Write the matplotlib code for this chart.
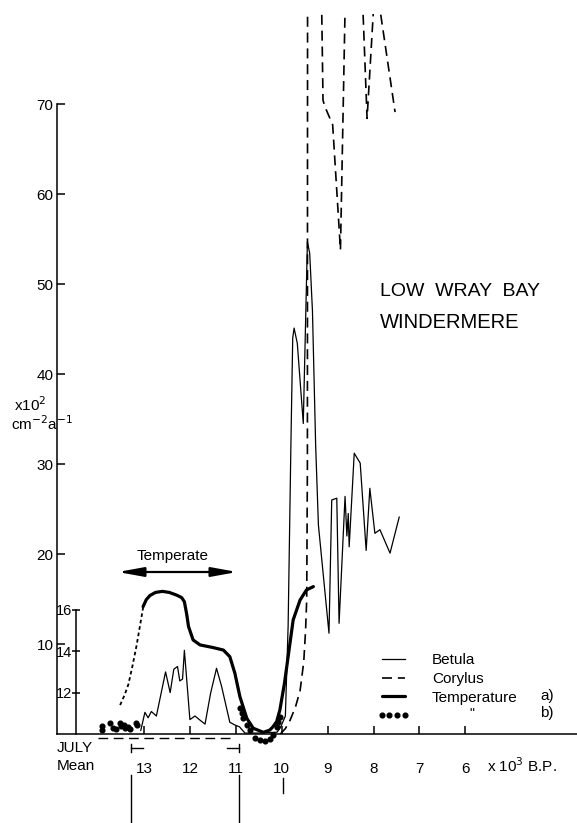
import matplotlib
matplotlib.use("Agg")
import matplotlib.pyplot as plt

plt.rcParams['font.family'] = ['Liberation Sans Narrow', 'Liberation Sans', 'DejaVu Sans']

# ---- data -------------------------------------------------------------
# ages in 10^3 years B.P.
age_ticks = [13, 12, 11, 10, 9, 8, 7, 6]
flux_ticks = [10, 20, 30, 40, 50, 60, 70]
temp_ticks = [12, 14, 16]

# Betula pollen influx (x10^2 grains cm-2 a-1)
betula_age = [13.07, 12.98, 12.91, 12.84, 12.73, 12.53, 12.43, 12.35, 12.27, 12.22,
              12.16, 12.12, 12.00, 11.89, 11.77, 11.67, 11.55, 11.42, 11.31, 11.13,
              11.02, 10.92, 10.80, 10.50, 10.10, 10.02, 9.92, 9.86, 9.80, 9.76,
              9.73, 9.66, 9.53, 9.44, 9.39, 9.33, 9.26, 9.20, 8.97, 8.91,
              8.80, 8.75, 8.62, 8.58, 8.55, 8.53, 8.42, 8.29, 8.16, 8.08,
              7.97, 7.86, 7.64, 7.44]
betula_flux = [0.4, 2.4, 1.8, 2.5, 2.0, 6.9, 4.6, 7.2, 7.5, 5.9,
               6.1, 9.3, 1.6, 2.0, 1.5, 1.1, 4.5, 7.3, 5.3, 1.3,
               1.0, 0.8, 0.1, 0.1, 0.2, 0.8, 2.0, 12.0, 32.0, 44.0,
               45.1, 43.4, 34.5, 54.7, 53.4, 47.0, 32.0, 23.2, 11.2, 26.0,
               26.2, 12.3, 26.4, 22.0, 24.5, 20.8, 31.2, 30.1, 20.4, 27.3,
               22.3, 22.7, 20.1, 24.1]

# Corylus pollen influx
corylus_age = [10.03, 9.92, 9.82, 9.70, 9.60, 9.52, 9.48, 9.455, 9.44, 9.43,
               9.10, 9.05, 8.89, 8.72, 8.49, 8.14, 7.96, 7.53]
corylus_flux = [0.0, 0.6, 1.5, 3.0, 4.8, 8.0, 11.5, 15.0, 30.0, 187.0,
                70.4, 69.6, 67.7, 53.8, 115.0, 68.4, 84.0, 69.1]

# July mean temperature (deg C), curve a)
temp_a_age = [13.02, 12.95, 12.87, 12.75, 12.60, 12.45, 12.29, 12.18, 12.12, 12.07,
              12.03, 11.93, 11.78, 11.49, 11.27, 11.13, 11.02, 10.91, 10.76, 10.62,
              10.40, 10.26, 10.19, 10.11, 10.04, 9.94, 9.86, 9.75, 9.60, 9.46, 9.31]
temp_a_val = [16.16, 16.50, 16.70, 16.85, 16.90, 16.85, 16.72, 16.60, 16.40, 15.80,
              15.20, 14.55, 14.31, 14.18, 14.06, 13.74, 12.94, 11.80, 10.76, 10.28,
              10.08, 10.19, 10.35, 10.60, 11.16, 12.45, 13.74, 15.52, 16.48, 16.97, 17.13]
# early, less certain part of curve a)
temp_a0_age = [13.52, 13.42, 13.34, 13.25, 13.16, 13.09, 13.02]
temp_a0_val = [11.40, 11.90, 12.40, 13.30, 14.30, 15.20, 16.10]

# July mean temperature, estimate b)
temp_b_age = [13.91, 13.91, 13.74, 13.67, 13.62, 13.52, 13.50, 13.43, 13.41, 13.34,
              13.31, 13.18, 13.16,
              10.91, 10.87, 10.84, 10.76, 10.69, 10.58, 10.47, 10.36, 10.25, 10.18,
              10.11, 10.07, 10.04]
temp_b_val = [10.39, 10.19, 10.55, 10.30, 10.23, 10.52, 10.39, 10.44, 10.28, 10.35,
              10.23, 10.52, 10.44,
              11.26, 11.00, 10.76, 10.44, 10.19, 9.79, 9.71, 9.68, 9.74, 9.95,
              10.35, 10.60, 10.84]

temperate_span = (13.57, 10.97)
july_mean_span = (14.00, 11.02)
zone_bounds = (13.28, 10.93)
zone_mark = 9.97

# ---- layout -----------------------------------------------------------
W, H = 577, 823
fig = plt.figure(figsize=(W / 100, H / 100), dpi=100)


def fx(px):
    return px / W


def fy(py):
    return 1 - py / H


ax = fig.add_axes([fx(57), fy(734), fx(577) - fx(57), fy(14) - fy(734)])
ax.set_xlim(14.895, 3.567)
ax.set_ylim(0, 80)
for s in ('top', 'right'):
    ax.spines[s].set_visible(False)
ax.spines['left'].set_bounds(0, 70)
ax.spines['left'].set_linewidth(1.1)
ax.spines['bottom'].set_linewidth(1.1)
ax.set_yticks(flux_ticks)
ax.set_xticks(age_ticks)
ax.tick_params(axis='y', direction='in', length=6, width=1.1, pad=2.5, labelsize=11)
ax.tick_params(axis='x', direction='in', length=6, width=1.1, pad=20, labelsize=11)

# temperature axis
ax2 = ax.twinx()
ax2.set_ylim(10, 10 + 720 / 20.67)
for s in ('top', 'right', 'bottom'):
    ax2.spines[s].set_visible(False)
ax2.spines['left'].set_visible(True)
ax2.spines['left'].set_position(('data', 14.48))
ax2.spines['left'].set_bounds(10, 16)
ax2.spines['left'].set_linewidth(1.1)
ax2.yaxis.set_ticks_position('left')
ax2.set_yticks(temp_ticks)
ax2.tick_params(axis='y', direction='inout', length=6, width=1.1, pad=0, labelsize=10.5)

# ---- series -----------------------------------------------------------
l_bet, = ax.plot(betula_age, betula_flux, color='k', lw=0.9)
l_cor, = ax.plot(corylus_age, corylus_flux, color='k', lw=1.2, dashes=(6, 3.5))
l_ta, = ax2.plot(temp_a_age, temp_a_val, color='k', lw=2.3, solid_capstyle='round')
ax2.plot(temp_a0_age, temp_a0_val, color='k', lw=1.3, dashes=(2, 1.6))
l_tb, = ax2.plot(temp_b_age, temp_b_val, ls='none', marker='o', ms=3.4,
                 color='k', clip_on=False)

# ---- annotations ------------------------------------------------------
ax.annotate('', xy=(temperate_span[1], 18), xytext=(temperate_span[0], 18),
            arrowprops=dict(arrowstyle='<|-|>,head_length=1.1,head_width=0.2',
                            mutation_scale=14, lw=1.6, color='k',
                            shrinkA=0, shrinkB=0))
ax.text(sum(temperate_span) / 2 + 0.1, 19.8, 'Temperate', ha='center', va='center',
        fontsize=11)

# July mean span and zone markers below the age axis
ax.plot(july_mean_span, [-0.45, -0.45], color='k', lw=1.0, dashes=(7, 4),
        clip_on=False)
ax.plot([zone_bounds[0], zone_bounds[0] - 0.26], [-1.56, -1.56], color='k', lw=1,
        clip_on=False)
ax.plot([zone_bounds[0], zone_bounds[0]], [-1.1, -2.0], color='k', lw=1, clip_on=False)
ax.plot([zone_bounds[1] + 0.26, zone_bounds[1]], [-1.56, -1.56], color='k', lw=1,
        clip_on=False)
ax.plot([zone_bounds[1], zone_bounds[1]], [-1.1, -2.0], color='k', lw=1, clip_on=False)
for zb in zone_bounds:
    ax.plot([zb, zb], [-4.56, -10.5], color='k', lw=1, clip_on=False)
ax.plot([zone_mark, zone_mark], [-4.9, -6.6], color='k', lw=1, clip_on=False)

fig.text(fx(57), fy(748), 'JULY', fontsize=11, va='center', ha='left')
fig.text(fx(57), fy(766), 'Mean', fontsize=11, va='center', ha='left')
fig.text(fx(487), fy(766), 'x 10$^3$ B.P.', fontsize=11, va='center', ha='left')

fig.text(fx(14), fy(405), 'x10$^2$', fontsize=11, va='center', ha='left')
fig.text(fx(11), fy(424), 'cm$^{-2}$a$^{-1}$', fontsize=11, va='center', ha='left')

fig.text(fx(380), fy(291), 'LOW  WRAY  BAY', fontsize=14, va='center', ha='left')
fig.text(fx(380), fy(323), 'WINDERMERE', fontsize=14.5, va='center', ha='left')

leg = ax.legend([l_bet, l_cor, l_ta, l_tb], ['Betula', 'Corylus', 'Temperature', ''],
                loc='upper left', bbox_to_anchor=(fx(377), fy(653)),
                bbox_transform=fig.transFigure, frameon=False, fontsize=11,
                handlelength=2.1, handletextpad=1.5, labelspacing=0.32,
                borderpad=0, borderaxespad=0, numpoints=4)
fig.text(fx(540), fy(696), 'a)', fontsize=11, va='center', ha='left')
fig.text(fx(540), fy(713), 'b)', fontsize=11, va='center', ha='left')
fig.text(fx(472), fy(714), '"', fontsize=10, va='center', ha='center')

fig.savefig('out.png', dpi=100)
